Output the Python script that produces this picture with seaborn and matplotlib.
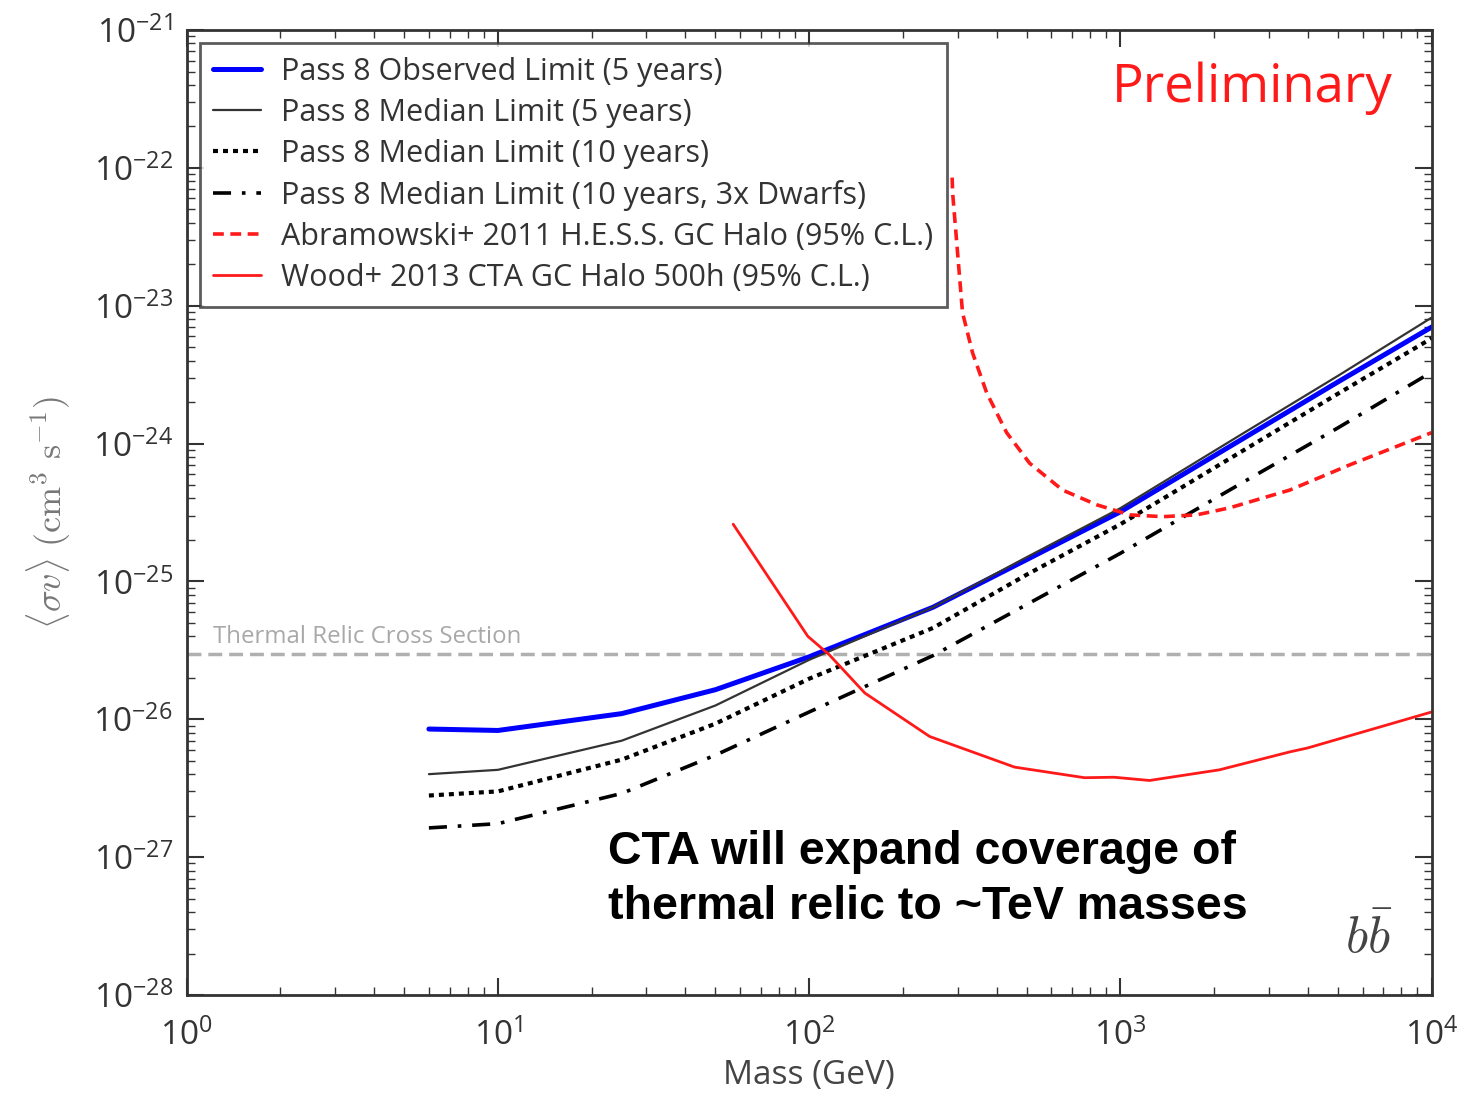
import matplotlib
matplotlib.use('Agg')
import matplotlib.pyplot as plt
import matplotlib.transforms as mtransforms
from matplotlib.ticker import NullFormatter
import seaborn as sns

# Mass grid (GeV) and limits
mass_fermi = [6, 10, 25, 50, 100, 250, 500, 1000, 2500, 5000, 10000]
observed_5yr = [8.5e-27, 8.3e-27, 1.1e-26, 1.64e-26, 2.84e-26, 6.5e-26, 1.44e-25, 3.2e-25, 1.1e-24, 2.8e-24, 7.0e-24]
median_5yr = [4.0e-27, 4.3e-27, 7.0e-27, 1.26e-26, 2.7e-26, 6.5e-26, 1.5e-25, 3.4e-25, 1.2e-24, 3.1e-24, 8.2e-24]
median_10yr = [2.8e-27, 3.0e-27, 5.1e-27, 9.3e-27, 1.97e-26, 4.6e-26, 1.12e-25, 2.6e-25, 9.0e-25, 2.3e-24, 5.8e-24]
median_10yr_3x = [1.63e-27, 1.75e-27, 2.9e-27, 5.5e-27, 1.13e-26, 2.9e-26, 6.8e-26, 1.6e-25, 5.3e-25, 1.3e-24, 3.3e-24]

mass_hess = [288, 289, 311, 335, 372, 431, 511, 652, 839, 1071, 1368, 1758, 2244, 3500, 5450, 10000]
hess_2011 = [8.5e-23, 6.6e-23, 8.9e-24, 4.55e-24, 2.33e-24, 1.2e-24, 7.2e-25, 4.6e-25, 3.6e-25,
             3.04e-25, 2.95e-25, 3.04e-25, 3.42e-25, 4.6e-25, 7.0e-25, 1.2e-24]

mass_cta = [57, 99, 116, 151, 244, 457, 767, 955, 1240, 2080, 3500, 4000, 10000]
cta_2013 = [2.6e-25, 4.0e-26, 2.94e-26, 1.55e-26, 7.5e-27, 4.5e-27, 3.77e-27, 3.8e-27, 3.6e-27, 4.3e-27, 5.8e-27, 6.2e-27, 1.13e-26]

thermal_relic = 3e-26

sns.set_style('ticks')
plt.rcParams['font.family'] = ['Open Sans', 'DejaVu Sans']
plt.rcParams['axes.unicode_minus'] = False

fig = plt.figure(figsize=(14.82, 10.95), dpi=100)
ax = fig.add_axes([0.126, 0.0913, 0.840, 0.8813])

ax.axhline(thermal_relic, color='#b0b0b0', lw=2.5, ls=(0, (4, 2)), zorder=1)
trans = mtransforms.blended_transform_factory(ax.transAxes, ax.transData)
ax.text(0.021, 3.6e-26, 'Thermal Relic Cross Section', color='#a8a8a8', fontsize=17.3,
        transform=trans)

sns.lineplot(x=mass_fermi, y=observed_5yr, ax=ax, color='#0000ff', lw=3.6,
             label='Pass 8 Observed Limit (5 years)')
sns.lineplot(x=mass_fermi, y=median_5yr, ax=ax, color='#333333', lw=1.6,
             label='Pass 8 Median Limit (5 years)')
sns.lineplot(x=mass_fermi, y=median_10yr, ax=ax, color='black', lw=3, ls=(0, (1.2, 1.2)),
             label='Pass 8 Median Limit (10 years)')
sns.lineplot(x=mass_fermi, y=median_10yr_3x, ax=ax, color='black', lw=2.6, ls=(0, (5, 3, 1, 3)),
             label='Pass 8 Median Limit (10 years, 3x Dwarfs)')
sns.lineplot(x=mass_hess, y=hess_2011, ax=ax, color='#ff1a1a', lw=2.6, ls=(0, (3, 1.8)),
             label='Abramowski+ 2011 H.E.S.S. GC Halo (95% C.L.)')
sns.lineplot(x=mass_cta, y=cta_2013, ax=ax, color='#ff1a1a', lw=2,
             label='Wood+ 2013 CTA GC Halo 500h (95% C.L.)')

ax.set_xscale('log')
ax.set_yscale('log')
ax.set_xlim(1, 1e4)
ax.set_ylim(1e-28, 1e-21)
ax.xaxis.set_minor_formatter(NullFormatter())
ax.yaxis.set_minor_formatter(NullFormatter())

for s in ax.spines.values():
    s.set_color('#333333')
    s.set_linewidth(2)
ax.tick_params(which='both', direction='in', top=True, right=True, colors='#333333',
               labelcolor='#333333', labelsize=24)
ax.tick_params(which='major', length=12, width=1.5, pad=10)
ax.tick_params(which='minor', length=6, width=1)
ax.tick_params(axis='x', which='major', pad=17)

ax.set_xlabel('Mass (GeV)', fontsize=24, color='#444444', labelpad=5)
ax.set_ylabel(r'$\langle\sigma v\rangle\ (\mathrm{cm}^{3}\ \mathrm{s}^{-1})$', fontsize=26,
              color='#777777', labelpad=14, math_fontfamily='cm')

leg = ax.legend(loc='upper left', bbox_to_anchor=(0.0104, 0.9865), fontsize=22, frameon=True,
                fancybox=False, handlelength=1.55, handletextpad=0.65, labelspacing=0.36,
                borderpad=0.45, borderaxespad=0)
leg.get_frame().set_edgecolor('#333333')
leg.get_frame().set_linewidth(2)
for t in leg.get_texts():
    t.set_color('#333333')

ax.text(0.9687, 0.94, 'Preliminary', transform=ax.transAxes, color='#ff1a1a', fontsize=38,
        ha='right', va='center')
ax.text(0.338, 0.1197, 'CTA will expand coverage of\nthermal relic to ~TeV masses',
        transform=ax.transAxes, fontsize=33.5, fontweight='bold', family='Liberation Sans',
        color='black', ha='left', va='center', linespacing=1.3)
ax.text(0.968, 0.031, r'$b\bar{b}$', transform=ax.transAxes, fontsize=37, color='#444444',
        ha='right', va='bottom', math_fontfamily='cm')

fig.savefig('out.png', dpi=100)
